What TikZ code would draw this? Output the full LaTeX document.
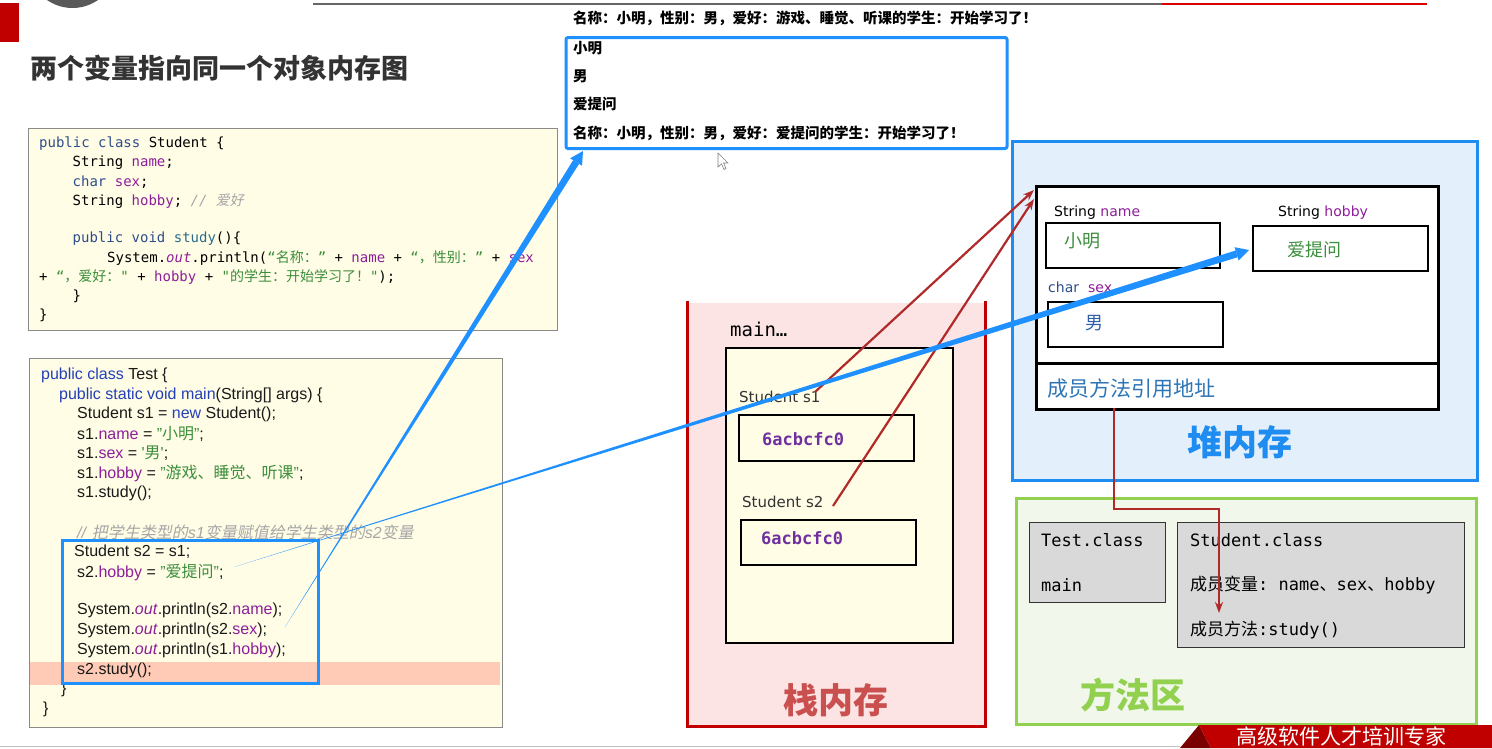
\documentclass[tikz,border=0pt]{standalone}
\usepackage{fontspec}
\setmainfont{Liberation Sans}
\setmonofont{DejaVu Sans Mono}
\newfontfamily\cjk{Noto Sans CJK SC}
\newfontfamily\cjki{Noto Sans CJK SC}[FakeSlant=0.2]
\newfontfamily\dvs{DejaVu Sans}
\usetikzlibrary{arrows.meta,calc,positioning}

\definecolor{codebg}{HTML}{FFFDE6}
\definecolor{codeframe}{HTML}{8A8A8A}
\definecolor{kwblue}{HTML}{2340B8}
\definecolor{kwslate}{HTML}{2F4D8C}
\definecolor{mthteal}{HTML}{2B6C8E}
\definecolor{fldpurple}{HTML}{8E1E9A}
\definecolor{strgreen}{HTML}{3B8E3B}
\definecolor{cmtgray}{HTML}{A6A6A6}
\definecolor{hlsalmon}{HTML}{FFCBB6}
\definecolor{selblue}{HTML}{1E90FF}
\definecolor{stackfill}{HTML}{FDE4E4}
\definecolor{stackred}{HTML}{C00000}
\definecolor{stacklbl}{HTML}{C9504F}
\definecolor{heapfill}{HTML}{E3F0FC}
\definecolor{heapblue}{HTML}{1E8CF0}
\definecolor{methfill}{HTML}{F1F8EB}
\definecolor{methgreen}{HTML}{92D050}
\definecolor{classgray}{HTML}{D9D9D9}
\definecolor{refred}{HTML}{B02A2A}
\definecolor{addrpurple}{HTML}{7030A0}
\definecolor{methblue}{HTML}{2E75B6}
\definecolor{valblue}{HTML}{2E5EAA}
\definecolor{titlegray}{HTML}{333333}
\definecolor{bannerred}{HTML}{C00000}
\definecolor{bannerdark}{HTML}{7A0000}

\newcommand{\fsz}[1]{\fontsize{#1}{#1}\selectfont}
\newcommand{\zh}[1]{{\cjk #1}}
\newcommand{\kw}[1]{\textcolor{kwblue}{#1}}
\newcommand{\ks}[1]{\textcolor{kwslate}{#1}}
\newcommand{\fd}[1]{\textcolor{fldpurple}{#1}}
\newcommand{\st}[1]{\textcolor{strgreen}{#1}}

\begin{document}
\begin{tikzpicture}[x=1pt, y=-1pt, line join=miter,
	txt/.style     = {anchor=west, inner sep=0pt},
	scode/.style   = {txt, font=\ttfamily\fsz{14}},
	tcode/.style   = {txt, font=\fsz{16}, text=black!90},
	codebox/.style = {draw=codeframe, fill=codebg, line width=1pt,
		anchor=north west, inner sep=0pt},
	cell/.style    = {draw=black, line width=2pt, anchor=north west, inner sep=0pt},
	classbox/.style= {draw=black!80, fill=classgray, line width=1.3pt,
		anchor=north west, inner sep=0pt},
	region/.style  = {anchor=north west, inner sep=0pt, line width=3pt},
	biglbl/.style  = {font=\cjk\bfseries\fsz{35}, inner sep=0pt},
	outtxt/.style  = {txt, font=\cjk\bfseries\fsz{14.5}},
	refarr/.style  = {draw=refred, line width=2.2pt, -{Stealth[length=11pt,width=8pt]}},
	]
	
	%% ── Pagina ───────────────────────────────────────────────────────────────
	\useasboundingbox (0,0) rectangle (1492,748);
	\fill[stackred] (0,3) rectangle (19,42);
	\fill[black!65] (72.5,-36.6) circle (44.6);
	\draw[black!60, line width=2pt] (313,4) -- (1162,4);
	\draw[red!85!black, line width=2.5pt] (1162,4) -- (1427,4);
	\node[txt, font=\cjk\bfseries\fsz{27}, text=titlegray] (title) at (30,68)
		{两个变量指向同一个对象内存图};
	
	%% ── Classe Student ───────────────────────────────────────────────────────
	\node[codebox, minimum width=529pt, minimum height=202pt] (stud) at (28,128) {};
	\node[scode] (sc1) at (39,143.5) {\ks{public class} Student \{};
	\node[scode] (sc2) at (72.5,162.6) {String \fd{name};};
	\node[scode] (sc3) at (72.5,181.7) {\ks{char} \fd{sex};};
	\node[scode] (sc4) at (72.5,200.8)
		{String \fd{hobby}; \textcolor{cmtgray}{\textit{//} {\cjki 爱好}}};
	\node[scode] (sc5) at (72.5,239) {\ks{public void} \textcolor{mthteal}{study}()\{};
	\node[scode] (sc6) at (107,258) {System.\fd{\textit{out}}.println(\st{“\zh{名称：}”}
		+ \fd{name} + \st{“\zh{，性别：}”} + \fd{sex}};
	\node[scode] (sc7) at (39,277) {+ \st{“\zh{，爱好：}"} + \fd{hobby}
		+ \st{"\zh{的学生：开始学习了！}"});};
	\node[scode] (sc8) at (72.5,296) {\}};
	\node[scode] (sc9) at (39,315) {\}};
	
	%% ── Classe Test ──────────────────────────────────────────────────────────
	\node[codebox, minimum width=473pt, minimum height=369pt] (test) at (29,358) {};
	\fill[hlsalmon] (30,662) rectangle (500,685);
	\node[tcode] (tc1)  at (41,375) {\kw{public class} Test \{};
	\node[tcode] (tc2)  at (59,395) {\kw{public static void main}(String[] args) \{};
	\node[tcode] (tc3)  at (77,414) {Student s1 = \kw{new} Student();};
	\node[tcode] (tc4)  at (77,434) {s1.\fd{name} = \st{"\zh{小明}"};};
	\node[tcode] (tc5)  at (77,453) {s1.\fd{sex} = \st{\textquotesingle\zh{男}\textquotesingle};};
	\node[tcode] (tc6)  at (77,473) {s1.\fd{hobby} = \st{"\zh{游戏、睡觉、听课}"};};
	\node[tcode] (tc7)  at (77,493) {s1.study();};
	\node[tcode, text=cmtgray] (tc8) at (77,532)
		{\textit{// }{\cjki 把学生类型的}\textit{s1}{\cjki 变量赋值给学生类型的}\textit{s2}{\cjki 变量}};
	\node[tcode] (tc9)  at (74,552) {Student s2 = s1;};
	\node[tcode] (tc10) at (77,572) {s2.\fd{hobby} = \st{"\zh{爱提问}"};};
	\node[tcode] (tc11) at (77,610) {System.\fd{\textit{out}}.println(s2.\fd{name});};
	\node[tcode] (tc12) at (77,630) {System.\fd{\textit{out}}.println(s2.\fd{sex});};
	\node[tcode] (tc13) at (77,650) {System.\fd{\textit{out}}.println(s1.\fd{hobby});};
	\node[tcode] (tc14) at (77,670) {s2.study();};
	\node[tcode] (tc15) at (61,689) {\}};
	\node[tcode] (tc16) at (43,709) {\}};
	\node[region, draw=selblue, minimum width=256pt, minimum height=143pt] (sel) at (61,539) {};
	
	%% ── Output console ───────────────────────────────────────────────────────
	\node[outtxt] (out0) at (573,18)
		{名称：小明，性别：男，爱好：游戏、睡觉、听课的学生：开始学习了！};
	\node[region, draw=selblue, fill=white, rounded corners=2pt,
		minimum width=441pt, minimum height=111pt] (outb) at (564.5,36) {};
	\node[outtxt] (out1) at (573,48)  {小明};
	\node[outtxt] (out2) at (573,76)  {男};
	\node[outtxt] (out3) at (573,104) {爱提问};
	\node[outtxt] (out4) at (573,133) {名称：小明，性别：男，爱好：爱提问的学生：开始学习了！};
	\draw[fill=white, draw=black!50, line width=0.6pt] (718,153) -- (718,167) -- (721.5,163.8)
		-- (724,169.5) -- (726,168.6) -- (723.6,163) -- (728,163) -- cycle;
	
	%% ── Stack ────────────────────────────────────────────────────────────────
	\node[region, fill=stackfill, minimum width=295pt, minimum height=422pt] (stack) at (687,301) {};
	\draw[stackred, line width=3pt] (stack.north west) -- (stack.south west)
		-- (stack.south east) -- (stack.north east);
	\node[txt, font=\ttfamily\fsz{19}] (frame) at (730,329) {main…};
	\node[anchor=north west, inner sep=0pt, draw=black, fill=codebg, line width=1.5pt,
		minimum width=227pt, minimum height=295pt] (mainfr) at (725,347) {};
	\node[txt, font=\dvs\fsz{15}, text=black!80] (s1lab) at (739,397) {Student s1};
	\node[cell, minimum width=175pt, minimum height=46pt] (s1box) at (738,414) {};
	\node[txt, font=\ttfamily\bfseries\fsz{17}, text=addrpurple] (s1val) at (762,439) {6acbcfc0};
	\node[txt, font=\dvs\fsz{15}, text=black!80] (s2lab) at (742,502) {Student s2};
	\node[cell, minimum width=175pt, minimum height=45pt] (s2box) at (740,519) {};
	\node[txt, font=\ttfamily\bfseries\fsz{17}, text=addrpurple] (s2val) at (761,538) {6acbcfc0};
	\node[biglbl, text=stacklbl] (stacklab) at (836,700) {栈内存};
	
	%% ── Heap ─────────────────────────────────────────────────────────────────
	\node[region, draw=heapblue, fill=heapfill, minimum width=465pt, minimum height=339pt]
		(heap) at (1011,140) {};
	\node[region, draw=black, fill=white, minimum width=402pt, minimum height=223pt]
		(obj) at (1035,185) {};
	\draw[black, line width=3pt] (1035,363) -- (1437,363);
	\node[txt, font=\dvs\fsz{14}] (namelab) at (1054,213) {String \fd{name}};
	\node[cell, minimum width=174pt, minimum height=45pt] (namebox) at (1045,222) {};
	\node[txt, font=\cjk\fsz{18}, text=strgreen] (nameval) at (1064,241) {小明};
	\node[txt, font=\dvs\fsz{14}] (hobbylab) at (1278,213) {String \fd{hobby}};
	\node[cell, minimum width=175pt, minimum height=45pt] (hobbybox) at (1252,225) {};
	\node[txt, font=\cjk\fsz{18}, text=strgreen] (hobbyval) at (1287,250) {爱提问};
	\node[txt, font=\dvs\fsz{14}] (sexlab) at (1048,287) {\ks{char}\hspace{9pt}\fd{sex}};
	\node[cell, minimum width=175pt, minimum height=45pt] (sexbox) at (1047,301) {};
	\node[txt, font=\cjk\fsz{18}, text=valblue] (sexval) at (1085,323) {男};
	\node[txt, font=\cjk\fsz{21}, text=methblue] (mref) at (1047,389) {成员方法引用地址};
	\node[biglbl, text=heapblue] (heaplab) at (1240,442) {堆内存};
	
	%% ── Area dei metodi ──────────────────────────────────────────────────────
	\node[region, draw=methgreen, fill=methfill, minimum width=460pt, minimum height=226pt]
		(meth) at (1015,497) {};
	\node[classbox, minimum width=136pt, minimum height=80pt] (testcls) at (1029,522) {};
	\node[txt, font=\ttfamily\fsz{17}] (tcl1) at (1041,540) {Test.class};
	\node[txt, font=\ttfamily\fsz{17}] (tcl2) at (1041,585) {main};
	\node[classbox, minimum width=287pt, minimum height=125pt] (studcls) at (1177,522) {};
	\node[txt, font=\ttfamily\fsz{17}] (scl1) at (1190,540) {Student.class};
	\node[txt, font=\ttfamily\fsz{17}] (scl2) at (1190,585) {\zh{成员变量}: name\zh{、}sex\zh{、}hobby};
	\node[txt, font=\ttfamily\fsz{17}] (scl3) at (1190,630) {\zh{成员方法}:study()};
	\node[biglbl, text=methgreen] (methlab) at (1133,695) {方法区};
	
	%% ── Banner ───────────────────────────────────────────────────────────────
	\draw[black!25, line width=1pt] (0,746.5) -- (1180,746.5);
	\fill[bannerdark] (1180,748) -- (1199,725) -- (1211,748) -- cycle;
	\fill[bannerred] (1199,725) -- (1492,725) -- (1492,748) -- (1211,748) -- cycle;
	\node[txt, font=\cjk\fsz{21}, text=white] (banner) at (1236,736) {高级软件人才培训专家};
	
	%% ── Riferimenti ──────────────────────────────────────────────────────────
	\coordinate (r1) at (815,392);   \coordinate (o1) at (1034,190);
	\coordinate (r2) at (833,506);   \coordinate (o2) at (1034,199);
	\draw[refarr] (r1) -- (o1);
	\draw[refarr] (r2) -- (o2);
	\coordinate (mS) at (1114,408);  \coordinate (mT) at (1219,613);
	\coordinate (mK) at (0,509);
	\draw[refarr] (mS) -- (mS |- mK) -| (mT);
	
	%% frecce blu rastremate
	\coordinate (bS1) at (285,627);  \coordinate (bE1) at (583,151);
	\coordinate (bS2) at (234,567);  \coordinate (bE2) at (1249,250);
	\foreach \s/\e in {bS1/bE1, bS2/bE2}{
		\coordinate (hb) at ($(\e)!13pt!(\s)$);
		\fill[selblue] (\s) -- ($(hb)!3.5pt!90:(\s)$) -- ($(hb)!3.5pt!-90:(\s)$) -- cycle;
		\fill[selblue] (\e) -- ($(hb)!7pt!90:(\s)$) -- ($(hb)!7pt!-90:(\s)$) -- cycle;
	}
	
\end{tikzpicture}
\end{document}
